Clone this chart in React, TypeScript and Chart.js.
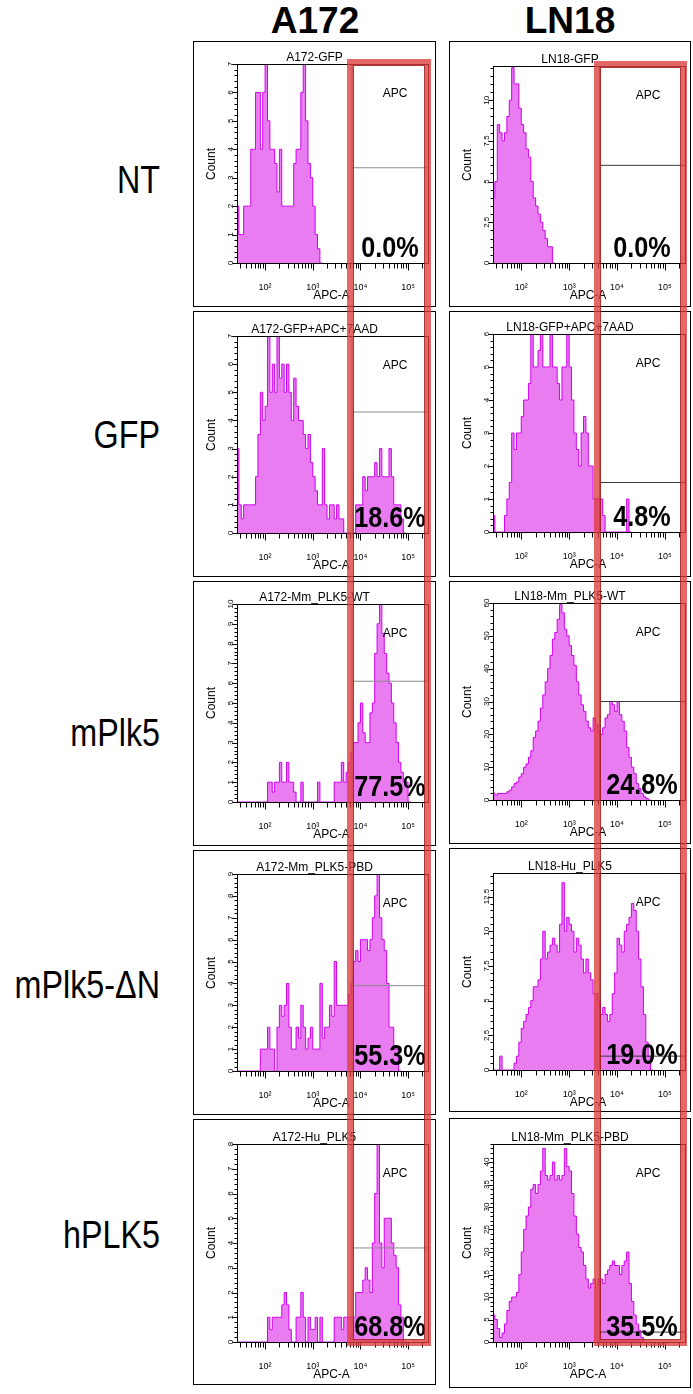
import React, { useEffect, useRef } from 'react';
import { Chart, registerables } from 'chart.js';
Chart.register(...registerables);

// ---------------- data ----------------
const COLUMN_HEADERS = ['A172', 'LN18'];
const ROW_LABELS = ['NT', 'GFP', 'mPlk5', 'mPlk5-\u0394N', 'hPLK5'];
const PANEL_TITLES = [
  'A172-GFP', 'A172-GFP+APC+7AAD', 'A172-Mm_PLK5-WT', 'A172-Mm_PLK5-PBD', 'A172-Hu_PLK5',
  'LN18-GFP', 'LN18-GFP+APC+7AAD', 'LN18-Mm_PLK5-WT', 'LN18-Hu_PLK5', 'LN18-Mm_PLK5-PBD',
];
const PERCENT_LABELS = ['0.0%', '18.6%', '77.5%', '55.3%', '68.8%', '0.0%', '4.8%', '24.8%', '19.0%', '35.5%'];
const GATE_NAME = 'APC';
const X_AXIS_TITLE = 'APC-A';
const Y_AXIS_TITLE = 'Count';
const Y_MAX = [7, 7, 10, 9, 8, 12.1, 6, 60, 14.2, 44];
const Y_STEP = [1, 1, 1, 1, 1, 2.5, 1, 10, 2.5, 5];
const GATE_LEVEL = [3.35, 4.3, 6.1, 3.9, 3.8, 6, 1.5, 30, 1, 2.2];
const GATE_START = [6700, 6700, 6700, 6700, 6700, 4360, 4360, 4360, 4360, 4360];
const X_MIN = 27;
const X_MAX = 275000;
const X_MAJOR = [100, 1000, 10000, 100000];
const X_MAJOR_LABELS = ['10\u00B2', '10\u00B3', '10\u2074', '10\u2075'];
const X_MINOR = [
  30, 40, 50, 60, 70, 80, 90,
  200, 300, 400, 500, 600, 700, 800, 900,
  2000, 3000, 4000, 5000, 6000, 7000, 8000, 9000,
  20000, 30000, 40000, 50000, 60000, 70000, 80000, 90000,
  200000,
];
// histogram bins: log10 start and width of each bin
const BIN_START_LOG = 1.4;
const BIN_WIDTH_LOG = 0.05;

const A172_GFP = [5, 2, 1, 1, 2, 2, 2, 4, 4, 6, 6, 4, 6, 7, 5, 4, 4, 3.5, 2.5, 4, 2, 2, 2, 2, 2, 3.5, 4, 4, 6, 7, 5, 3.5, 3, 2, 1, 0.5];
const A172_GFP_APC_7AAD = [
  0, 3, 1, 0.5, 1, 1, 1, 1, 1, 2, 3.5, 5, 4, 4.5, 7, 5, 6, 5, 7, 5.5, 6, 5, 6, 5, 4, 5.5, 4.5, 4, 4, 3.5,
  3, 3.5, 2.5, 2, 1.5, 1, 1, 3, 1, 0.5, 1, 1, 0.5, 1, 0.5, 0.5, 0, 0, 0, 0, 0, 1, 1, 1, 2, 1.5, 2, 2, 2, 2.5,
  2, 3, 2, 2, 2, 3, 2, 1, 1, 1, 0.5,
];
const A172_MM_PLK5_WT = [
  0, 0, 0, 0, 0, 0, 0, 0, 0, 0, 0, 0, 0, 0, 1, 1, 0.5, 1, 1, 2, 1, 1, 2, 1, 1, 0.5, 0, 0, 1, 0,
  0, 0, 0, 0, 0, 1, 0, 0, 0, 0, 0, 0, 1, 1, 1, 2, 1, 1.5, 2, 2.5, 3, 3, 4, 5, 3.5, 3, 3, 4.5, 5, 7.5,
  9, 10, 8.5, 7.5, 6.5, 6, 5, 4, 3, 2, 1.5, 1, 1,
];
const A172_MM_PLK5_PBD = [
  0, 0, 0, 0, 0, 0, 0, 0, 0, 0, 0, 1, 1, 1, 2, 1, 1, 0, 2, 3, 2.5, 3, 4, 2, 1, 1, 2, 1.5, 3, 2,
  1, 1.5, 2, 1, 1, 1, 4, 1.5, 2, 2, 3, 2.5, 5, 3, 3, 3, 3, 3, 3.5, 4, 5, 5.5, 5, 6, 6, 6, 5.5, 6, 7, 8,
  9, 7, 6, 5.5, 4, 2, 2, 1, 1,
];
const A172_HU_PLK5 = [
  0, 0, 0, 0, 0, 0, 0, 0, 0, 0, 0, 0, 0, 0, 1, 0.5, 1, 1, 1, 1, 1.5, 2, 1.5, 0.5, 0, 0, 1, 1, 2, 1,
  0, 1, 0.5, 0.5, 1, 0, 1, 0, 0, 0, 0, 0, 1, 1, 1, 0.5, 1, 1, 1, 1, 1, 2, 2, 2, 2.5, 3, 2.5, 2, 4, 6,
  8, 4, 3, 5, 5, 5, 4, 3.5, 3, 1.5, 1,
];
const LN18_GFP = [12, 4, 5, 8.5, 8, 7.5, 8, 9, 10, 12, 11, 11, 9.5, 8.5, 8, 7, 6.5, 5, 4, 3.5, 3, 2.5, 2, 1.5, 1, 1];
const LN18_GFP_APC_7AAD = [
  2, 0.5, 0, 0, 0, 0, 0.5, 1, 1.5, 3, 2.5, 3, 3, 3.5, 4, 4, 4.5, 6, 5, 5, 5.5, 6, 5, 5, 5, 6, 5, 5, 4.5, 4,
  5, 5, 6, 5, 4, 3, 2.5, 2, 3, 3.5, 3, 2, 2, 1, 1, 1, 1, 0.5, 0, 0, 0, 0, 0, 0, 0, 0, 0, 1,
];
const LN18_MM_PLK5_WT = [
  9, 2, 1.5, 2, 2, 2, 2, 2.5, 3, 4, 5, 5.5, 7, 8, 10, 11, 13, 15, 19, 21, 24, 28, 32, 36, 40, 44, 49, 51, 55, 59.5,
  57, 52, 50, 47, 44, 41, 36, 32, 29, 27, 24, 22, 21, 25, 23, 21, 20, 22, 25, 26, 30, 29, 27, 30, 26, 24, 21, 16, 13, 10,
  8, 5, 3.5, 2, 1, 0.5,
];
const LN18_HU_PLK5 = [
  1, 0, 0, 0, 1, 0, 0, 0, 0, 0, 0.5, 1, 2, 3, 3.5, 4, 4.5, 5, 6, 6, 6.5, 8, 10, 8, 8.5, 9, 9.5, 9, 8.5, 10.5,
  13.5, 10, 11, 10.5, 10, 8.5, 9.5, 9, 8, 7, 8, 7, 6.5, 5.5, 5.5, 5, 4, 4.5, 4, 3.5, 4, 5.5, 7, 9.5, 9, 8.5, 10, 10.5, 11, 12,
  11.5, 10, 8, 6, 4, 2, 1,
];
const LN18_MM_PLK5_PBD = [
  20, 6, 5, 3, 1, 2, 4, 7, 9, 10, 10, 11, 15, 20, 25, 28, 30, 34, 35, 33, 35, 38, 43, 37, 36, 37, 40, 36, 37, 36,
  37, 43, 39, 38, 33, 28, 24, 21, 20, 17, 14, 12, 13, 14, 12, 14, 14, 13, 15, 16, 17, 18, 17, 17, 15, 17, 18, 20, 13, 9,
  6, 4, 2.5, 1,
];
const COUNTS = [
  A172_GFP, A172_GFP_APC_7AAD, A172_MM_PLK5_WT, A172_MM_PLK5_PBD, A172_HU_PLK5,
  LN18_GFP, LN18_GFP_APC_7AAD, LN18_MM_PLK5_WT, LN18_HU_PLK5, LN18_MM_PLK5_PBD,
];

// ---------------- layout (page pixels) ----------------
const BOXES = [
  [193, 41, 436, 307], [193, 311, 436, 577], [193, 581, 436, 846], [193, 850, 436, 1115], [193, 1119, 436, 1385],
  [449, 41, 691, 307], [449, 311, 691, 577], [449, 581, 691, 844], [449, 848, 691, 1112], [449, 1118, 691, 1388],
];
const PLOTS = [
  [238, 64, 429, 263], [238, 336, 429, 533], [238, 604, 429, 802], [238, 874, 429, 1071], [238, 1144, 429, 1342],
  [494, 66, 686, 263], [494, 334, 686, 532], [494, 603, 686, 800], [494, 873, 686, 1070], [494, 1144, 686, 1342],
];
const PERCENT_X = [390, 642];
const GATE_LABEL_X = [395, 648];
const HEADER_X = [315, 570];
const ROW_Y = [180, 435, 733, 985, 1235];
const ROW_RIGHT = 160;
const RED_RECTS = [
  [347, 59, 431, 1346],
  [594, 61, 687, 1346],
];
const FONT = '"Liberation Sans", Arial, Helvetica, sans-serif';
const FILL = 'rgb(234,124,242)';
const EDGE = 'rgb(206,0,240)';
const GATE_COLORS = ['#8c8c8c', '#3a3a3a'];
const X_AXIS_H = 30;

function fmtY(v: number) {
  return Number.isInteger(v) ? String(v) : v.toFixed(1);
}

const axisDecor = {
  id: 'axisDecor',
  afterDraw(chart: any, _args: any, opts: any) {
    const idx = opts.index as number;
    const { ctx, chartArea: ca, scales } = chart;
    const xs = scales.x;
    const ys = scales.y;
    ctx.save();
    ctx.strokeStyle = '#000';
    ctx.lineWidth = 1;
    const L = Math.round(ca.left) - 0.5;
    const T = Math.round(ca.top) + 0.5;
    const R = Math.round(ca.right) - 0.5;
    const B = Math.round(ca.bottom) + 0.5;
    ctx.strokeRect(L, T, R - L, B - T);
    ctx.beginPath();
    for (const v of X_MAJOR) {
      const px = Math.round(xs.getPixelForValue(v)) + 0.5;
      ctx.moveTo(px, B);
      ctx.lineTo(px, B + 7);
    }
    for (const v of X_MINOR) {
      const px = Math.round(xs.getPixelForValue(v)) + 0.5;
      ctx.moveTo(px, B);
      ctx.lineTo(px, B + 5);
    }
    const step = Y_STEP[idx];
    const ymax = Y_MAX[idx];
    for (let k = 0; (k * step) / 5 <= ymax + 1e-9; k++) {
      const v = (k * step) / 5;
      const py = Math.round(ys.getPixelForValue(v)) + 0.5;
      const len = k % 5 === 0 ? 5 : 3;
      ctx.moveTo(L, py);
      ctx.lineTo(L - len, py);
    }
    ctx.stroke();
    ctx.fillStyle = '#000';
    ctx.font = '8px ' + FONT;
    ctx.textAlign = 'center';
    ctx.textBaseline = 'middle';
    for (let k = 0; k * step <= ymax + 1e-9; k++) {
      const v = k * step;
      const py = ys.getPixelForValue(v);
      ctx.save();
      ctx.translate(L - 7, py);
      ctx.rotate(-Math.PI / 2);
      ctx.fillText(fmtY(v), 0, 0);
      ctx.restore();
    }
    ctx.restore();
  },
};

function Panel({ index }: { index: number }) {
  const ref = useRef<HTMLCanvasElement>(null);
  const [bl, bt, br, bb] = BOXES[index];
  const [pl, pt, pr, pb] = PLOTS[index];
  const cw = br - bl - 2;
  const ch = bb - bt - 2;
  const col = index < 5 ? 0 : 1;

  useEffect(() => {
    const counts = COUNTS[index];
    const hist = counts.map((c, i) => ({ x: Math.pow(10, BIN_START_LOG + BIN_WIDTH_LOG * i), y: c }));
    hist.push({ x: Math.pow(10, BIN_START_LOG + BIN_WIDTH_LOG * counts.length), y: 0 });
    const gx = GATE_START[index];
    const gy = GATE_LEVEL[index];
    const ox = bl + 1;
    const oy = bt + 1;
    const chart = new Chart(ref.current as HTMLCanvasElement, {
      type: 'line',
      data: {
        datasets: [
          {
            data: [{ x: gx, y: 0 }, { x: gx, y: Y_MAX[index] }],
            borderColor: GATE_COLORS[col],
            borderWidth: 1,
            pointRadius: 0,
            fill: false,
            order: 1,
          },
          {
            data: [{ x: gx, y: gy }, { x: X_MAX, y: gy }],
            borderColor: GATE_COLORS[col],
            borderWidth: 1,
            pointRadius: 0,
            fill: false,
            order: 1,
          },
          {
            data: hist,
            stepped: 'after',
            fill: 'origin',
            backgroundColor: FILL,
            borderColor: EDGE,
            borderWidth: 1,
            pointRadius: 0,
            tension: 0,
            order: 2,
          },
        ],
      } as any,
      options: {
        responsive: false,
        animation: false,
        events: [],
        layout: {
          autoPadding: false,
          padding: {
            left: pl - ox,
            top: pt - oy,
            right: cw - (pr - ox),
            bottom: ch - (pb - oy) - X_AXIS_H,
          },
        },
        scales: {
          x: {
            type: 'logarithmic',
            min: X_MIN,
            max: X_MAX,
            grid: { display: false },
            border: { display: false },
            afterBuildTicks: (s: any) => {
              s.ticks = X_MAJOR.map((v) => ({ value: v }));
            },
            afterFit: (s: any) => {
              s.height = X_AXIS_H;
            },
            ticks: {
              autoSkip: false,
              maxRotation: 0,
              minRotation: 0,
              padding: 11,
              color: '#000',
              font: { family: FONT, size: 9 },
              callback: (_v: any, i: number) => X_MAJOR_LABELS[i],
            },
          },
          y: {
            type: 'linear',
            min: 0,
            max: Y_MAX[index],
            grid: { display: false },
            border: { display: false },
            ticks: { display: false },
            afterFit: (s: any) => {
              s.width = 0;
            },
          },
        },
        plugins: {
          legend: { display: false },
          tooltip: { enabled: false },
          axisDecor: { index },
        } as any,
      },
      plugins: [axisDecor],
    });
    return () => chart.destroy();
  }, [index]);

  const txt: React.CSSProperties = {
    position: 'absolute',
    fontFamily: FONT,
    color: '#000',
    whiteSpace: 'nowrap',
    lineHeight: 1,
    transform: 'translate(-50%, -50%)',
  };
  return (
    <>
      <div
        style={{
          position: 'absolute',
          left: bl,
          top: bt,
          width: br - bl,
          height: bb - bt,
          border: '1px solid #000',
          boxSizing: 'border-box',
        }}
      >
        <canvas ref={ref} width={cw} height={ch} style={{ position: 'absolute', left: 0, top: 0, width: cw, height: ch }} />
      </div>
      <div style={{ ...txt, left: (bl + br) / 2, top: pt - 7, fontSize: 12 }}>{PANEL_TITLES[index]}</div>
      <div style={{ ...txt, left: GATE_LABEL_X[col], top: pt + 29, fontSize: 12 }}>{GATE_NAME}</div>
      <div style={{ ...txt, left: bl + 18, top: (pt + pb) / 2, fontSize: 12, transform: 'translate(-50%, -50%) rotate(-90deg)' }}>
        {Y_AXIS_TITLE}
      </div>
      <div style={{ ...txt, left: (pl + pr) / 2 - 2, top: pb + 32, fontSize: 12 }}>{X_AXIS_TITLE}</div>
      <div
        style={{
          ...txt,
          left: PERCENT_X[col],
          top: pb - 16,
          fontSize: 30,
          fontWeight: 'bold',
          transform: 'translate(-50%, -50%) scaleX(0.84)',
        }}
      >
        {PERCENT_LABELS[index]}
      </div>
    </>
  );
}

export default function App() {
  return (
    <div style={{ position: 'absolute', left: 0, top: 0, width: 693, height: 1394, background: '#fff', overflow: 'hidden' }}>
      {COLUMN_HEADERS.map((h, i) => (
        <div
          key={h}
          style={{
            position: 'absolute',
            left: HEADER_X[i],
            top: 20,
            transform: 'translate(-50%, -50%)',
            fontFamily: FONT,
            fontWeight: 'bold',
            fontSize: 37,
            lineHeight: 1,
            whiteSpace: 'nowrap',
          }}
        >
          {h}
        </div>
      ))}
      {ROW_LABELS.map((r, i) => (
        <div
          key={r}
          style={{
            position: 'absolute',
            left: ROW_RIGHT - 300,
            width: 300,
            top: ROW_Y[i] - 19,
            textAlign: 'right',
            fontFamily: FONT,
            fontSize: 38,
            lineHeight: 1,
            whiteSpace: 'nowrap',
            transform: 'scaleX(0.85)',
            transformOrigin: '100% 50%',
          }}
        >
          {r}
        </div>
      ))}
      {COUNTS.map((_c, i) => (
        <Panel key={i} index={i} />
      ))}
      {RED_RECTS.map(([l, t, r, b], i) => (
        <div
          key={i}
          style={{
            position: 'absolute',
            left: l,
            top: t,
            width: r - l,
            height: b - t,
            boxSizing: 'border-box',
            border: '6px solid rgba(222,62,62,0.78)',
          }}
        >
          <div
            style={{
              position: 'absolute',
              left: 0,
              top: 0,
              right: 0,
              bottom: 0,
              border: '1px solid rgba(160,20,20,0.85)',
            }}
          />
        </div>
      ))}
    </div>
  );
}
